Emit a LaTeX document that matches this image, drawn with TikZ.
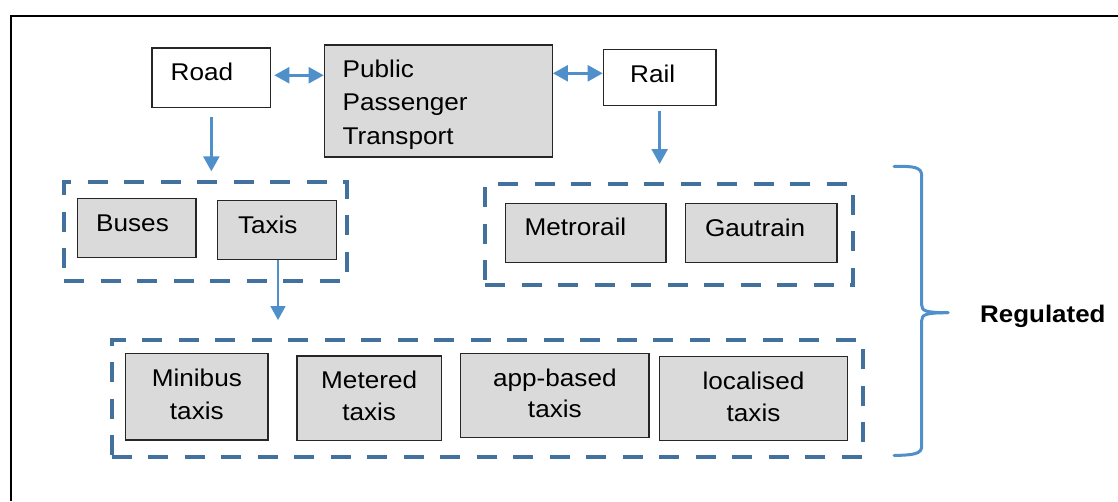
\documentclass[tikz,border=0pt]{standalone}
\usepackage{fontspec}
\setmainfont[FakeStretch=1.08]{Liberation Sans}
\usetikzlibrary{arrows.meta,calc}
\definecolor{arrowblue}{HTML}{4F8FCA}
\definecolor{dashblue}{HTML}{41719C}
\definecolor{boxgray}{HTML}{D9DAD9}
\definecolor{boxline}{HTML}{262626}
\tikzset{
  box/.style={draw=boxline, line width=1.3pt, fill=boxgray, inner sep=0pt},
  wbox/.style={box, fill=white},
  grp/.style={draw=dashblue, line width=4pt, dash pattern=on 20pt off 16.5pt, inner sep=0pt},
  txt/.style={font=\fontsize{24.2}{28}\selectfont, inner sep=0pt, anchor=base west},
  ctxt/.style={font=\fontsize{24.2}{28}\selectfont, inner sep=0pt, anchor=base},
  arr/.style={draw=arrowblue, line width=2.5pt, -{Triangle[length=15pt,width=16pt]}},
  darr/.style={draw=arrowblue, line width=2.5pt, {Triangle[length=15pt,width=16pt]}-{Triangle[length=15pt,width=16pt]}},
  thinarr/.style={draw=arrowblue, line width=1.8pt, -{Triangle[length=14pt,width=15pt]}},
  brace/.style={draw=arrowblue, line width=3pt, line cap=round, line join=round}
}
\begin{document}
\begin{tikzpicture}[x=1pt,y=-1pt]
\useasboundingbox (0,0) rectangle (1118,501);
% outer frame
\coordinate (fbl) at (11,501);
\coordinate (ftl) at (11,15.7);
\coordinate (ftr) at (1118,15.7);
\draw[line width=2pt] (fbl) -- (ftl) -- (ftr);

% top row
\node[wbox, minimum width=118.7pt, minimum height=59.3pt] (road) at (211.35,77.65) {};
\node[box, minimum width=228pt, minimum height=112pt] (ppt) at (438.3,101) {};
\node[wbox, minimum width=112.7pt, minimum height=56.4pt] (rail) at (659.65,77.5) {};
\node[txt] (roadt) at (170.5,80) {Road};
\node[txt] (ppt1) at (342.5,77.5) {Public};
\node[txt] (ppt2) at (342.5,110.8) {Passenger};
\node[txt] (ppt3) at (342.5,144) {Transport};
\node[txt] (railt) at (630,82.3) {Rail};

% groups
\node[grp, minimum width=282.7pt, minimum height=98.7pt] (g1) at (205.35,231.65) {};
\node[grp, minimum width=367.7pt, minimum height=101pt] (g2) at (668.85,234.5) {};
\node[grp, minimum width=751.6pt, minimum height=117pt] (g3) at (487.5,398.5) {};

% group 1
\node[box, minimum width=118.7pt, minimum height=59pt] (buses) at (136.65,228.2) {};
\node[box, minimum width=119pt, minimum height=58.6pt] (taxis) at (277.2,230) {};
\node[txt] (busest) at (96,231) {Buses};
\node[txt] (taxist) at (237.8,233.3) {Taxis};

% group 2
\node[box, minimum width=160.3pt, minimum height=59pt] (metro) at (585.85,233.2) {};
\node[box, minimum width=151.3pt, minimum height=59pt] (gau) at (761.35,233.2) {};
\node[txt] (metrot) at (524.3,235.7) {Metrorail};
\node[txt] (gaut) at (704.8,236) {Gautrain};

% group 3
\node[box, minimum width=142.3pt, minimum height=86.3pt] (mini) at (196.85,396.85) {};
\node[box, minimum width=144.3pt, minimum height=84.7pt] (mete) at (369.15,398.35) {};
\node[box, minimum width=188.3pt, minimum height=84.4pt] (app) at (554.85,395.5) {};
\node[box, minimum width=188.4pt, minimum height=84pt] (loc) at (753.5,398.7) {};
\node[ctxt] (mini1) at (196.85,386.7) {Minibus};
\node[ctxt] (mini2) at (196.85,419) {taxis};
\node[ctxt] (mete1) at (369.15,388.3) {Metered};
\node[ctxt] (mete2) at (369.15,420) {taxis};
\node[ctxt] (app1) at (554.85,386) {app-based};
\node[ctxt] (app2) at (554.85,417.3) {taxis};
\node[ctxt] (loc1) at (753.5,389.3) {localised};
\node[ctxt] (loc2) at (753.5,421.7) {taxis};

% connectors
\draw[darr, shorten <=3pt] ([yshift=2.4pt]road.east) -- ([yshift=2.4pt]road.east -| ppt.west);
\draw[darr] ([yshift=4.2pt]rail.west -| ppt.east) -- ([yshift=4.2pt]rail.west);
\draw[arr, shorten <=8.7pt, shorten >=9pt] (road.south) -- (road.south |- g1.north);
\draw[arr, shorten <=4.3pt, shorten >=18pt] (rail.south) -- (rail.south |- g2.north);
\draw[thinarr, shorten >=18pt] ([xshift=0.8pt]taxis.south) -- ([xshift=0.8pt]taxis.south |- g3.north);

% brace
\draw[brace] (894,166.5) .. controls (914,166) and (921.7,167) .. (921.7,176)
  -- (921.7,305) .. controls (921.7,311) and (926,312.7) .. (948,312.7);
\draw[brace] (948,312.7) .. controls (926,312.7) and (921.7,314.5) .. (921.7,320.5)
  -- (921.7,446) .. controls (921.7,454) and (914,455) .. (894,455.5);
\node[txt, font=\fontsize{24}{28}\selectfont\bfseries] (reg) at (980,322.3) {Regulated};
\end{tikzpicture}
\end{document}
